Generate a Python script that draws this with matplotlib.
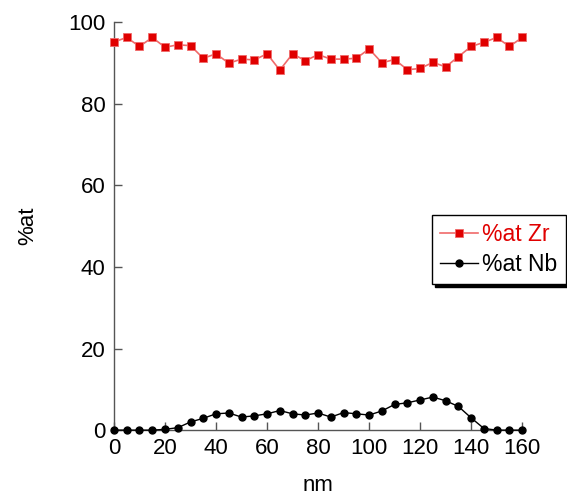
import matplotlib
matplotlib.use("Agg")
import matplotlib.pyplot as plt

plt.rcParams['font.family'] = ['Liberation Sans', 'DejaVu Sans']

nm = [0, 5, 10, 15, 20, 25, 30, 35, 40, 45, 50, 55, 60, 65, 70, 75, 80,
      85, 90, 95, 100, 105, 110, 115, 120, 125, 130, 135, 140, 145, 150, 155, 160]
zr = [95.1, 96.2, 94.0, 96.2, 93.8, 94.4, 94.2, 91.1, 92.2, 89.9, 90.9, 90.7, 92.2,
      88.2, 92.2, 90.5, 92.0, 90.9, 90.9, 91.1, 93.4, 90.0, 90.8, 88.3, 88.6, 90.1,
      89.0, 91.5, 94.0, 95.0, 96.2, 94.0, 96.2]
nb = [0, 0, 0, 0, 0.2, 0.6, 2.0, 2.9, 4.0, 4.2, 3.2, 3.5, 4.0, 4.8, 4.0, 3.7, 4.2,
      3.2, 4.3, 4.0, 3.7, 4.7, 6.3, 6.7, 7.4, 8.1, 7.2, 5.8, 3.0, 0.4, 0, 0, 0]
x_ticks = [0, 20, 40, 60, 80, 100, 120, 140, 160]
y_ticks = [0, 20, 40, 60, 80, 100]

fig = plt.figure(figsize=(5.67, 4.99), dpi=100)
ax = fig.add_axes([0.201, 0.138, 0.72, 0.818])

ax.plot(nm, zr, color='#f06a6a', lw=1.2, marker='s', markersize=6,
        markerfacecolor='#e00000', markeredgecolor='#f06a6a', markeredgewidth=0.6,
        label='%at Zr', zorder=3, clip_on=False)
ax.plot(nm, nb, color='black', lw=1.0, marker='o', markersize=5,
        markerfacecolor='black', markeredgecolor='black', label='%at Nb', zorder=3,
        clip_on=False)

ax.set_xlim(0, 160)
ax.set_ylim(0, 100)
ax.set_xticks(x_ticks)
ax.set_yticks(y_ticks)
for s in ['top', 'right']:
    ax.spines[s].set_visible(False)
for s in ['left', 'bottom']:
    ax.spines[s].set_color('#555555')
    ax.spines[s].set_linewidth(1.0)
ax.tick_params(direction='in', length=6, width=1, color='#555555',
               labelsize=16, labelcolor='black', pad=6)
ax.set_xlabel('nm', fontsize=16, labelpad=11)
ax.set_ylabel('%at', fontsize=16, labelpad=22)

leg = fig.legend(loc='upper left', bbox_to_anchor=(0.762, 0.569), fontsize=16.5,
                 frameon=True, fancybox=False, shadow={'color': 'black', 'alpha': 1.0},
                 handlelength=1.65, borderpad=0.35, labelspacing=0.3, handletextpad=0.2,
                 borderaxespad=0)
leg.get_frame().set_edgecolor('black')
leg.get_frame().set_linewidth(1.0)
leg.get_texts()[0].set_color('#e00000')

fig.savefig('out.png', dpi=100)
